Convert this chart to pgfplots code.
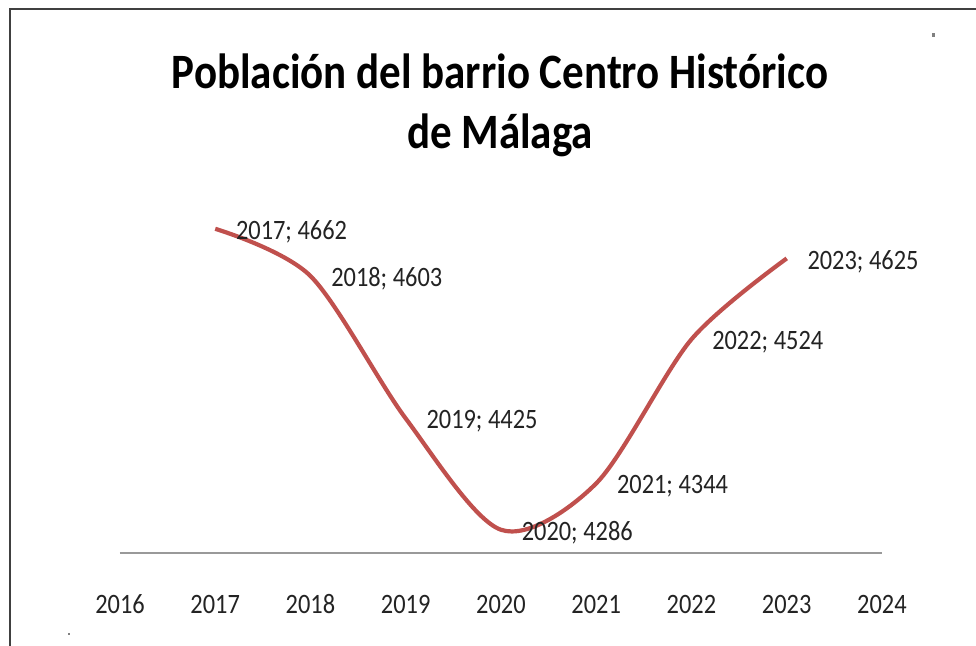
\documentclass[border=0pt]{standalone}
\usepackage{fontspec}
\setmainfont{Carlito}
\usepackage{graphicx}
\usepackage{pgfplots}
\pgfplotsset{compat=1.18}
\definecolor{exred}{RGB}{192,80,77}
\definecolor{txt}{RGB}{35,35,35}
\newcommand{\vs}[1]{\scalebox{1}[1.15]{#1}}
\begin{document}
\begin{tikzpicture}
\useasboundingbox (-60pt,-46.5pt) rectangle (428pt,276.5pt);
\fill[white] (-60pt,-46.5pt) rectangle (428pt,276.5pt);
\draw[black!75, line width=0.8pt] (-55pt,-46.5pt) -- (-55pt,272pt) -- (428pt,272pt);
\fill[gray] (406pt,260pt) rectangle ++(1.5pt,-2pt);
\fill[gray] (-26pt,-40pt) rectangle ++(1pt,-1pt);
\begin{axis}[
  at={(0,0)}, anchor=south west,
  scale only axis,
  width=381pt, height=176.5pt,
  xmin=2016, xmax=2024,
  ymin=4257, ymax=4698,
  axis y line=none,
  axis x line*=bottom,
  x axis line style={draw=black!40, line width=0.6pt, -},
  xtick={2016,...,2024},
  xticklabels={\vs{2016},\vs{2017},\vs{2018},\vs{2019},\vs{2020},\vs{2021},\vs{2022},\vs{2023},\vs{2024}},
  major tick length=0pt,
  xticklabel style={font=\fontsize{12.2}{14}\selectfont, text=txt, anchor=north, text height=10pt, text depth=0pt, yshift=-16.5pt},
  clip=false,
]
\addplot[exred, line width=2.1pt, smooth, tension=0.5,
  point meta=explicit symbolic,
  visualization depends on={value \thisrow{xl} \as \xlab},
  nodes near coords={\vs{\xlab;\ \pgfplotspointmeta}},
  nodes near coords style={font=\fontsize{12.2}{14}\selectfont, text=txt, anchor=west, xshift=6pt, yshift=-1.5pt},
] table[x=x, y=y, meta=yl] {
  x    y    xl   yl
  2017 4662 2017 4662
  2018 4603 2018 4603
  2019 4425 2019 4425
  2020 4286 2020 4286
  2021 4344 2021 4344
  2022 4524 2022 4524
  2023 4625 2023 4625
};
\end{axis}
\node[align=center, font=\fontsize{21.5}{30}\selectfont\bfseries, text=black] at (190pt,224pt) {\vs{Población del barrio Centro Histórico}\\\vs{de Málaga}};
\end{tikzpicture}
\end{document}
